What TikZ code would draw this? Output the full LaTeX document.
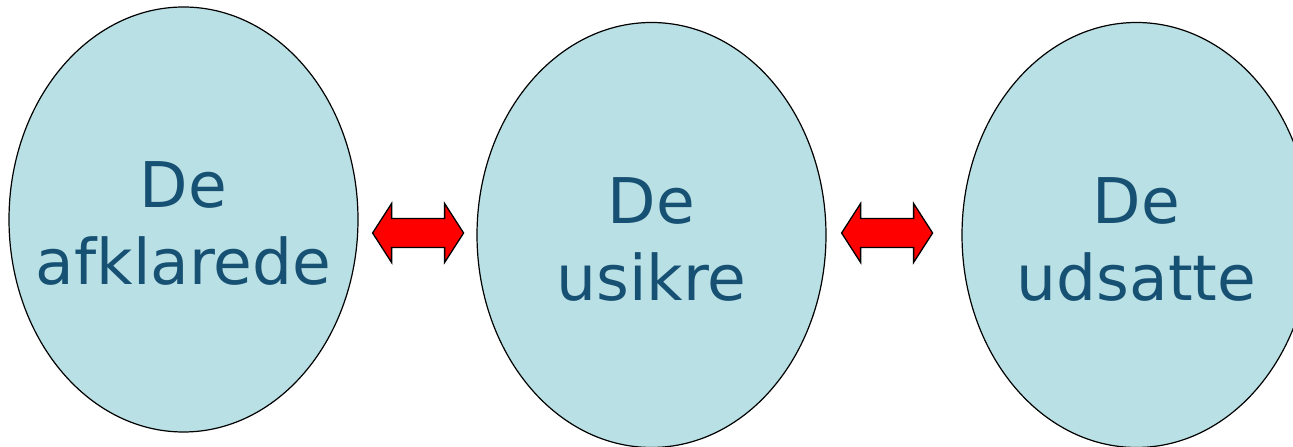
\documentclass[tikz,border=0pt]{standalone}
\usepackage{fontspec}
\setmainfont{DejaVu Sans}
\usetikzlibrary{shapes.geometric,calc}

\definecolor{groupfill}{RGB}{185,224,228}
\definecolor{grouptext}{RGB}{22,80,115}

\tikzset{
  group/.style={ellipse, draw=black, line width=1.2pt, fill=groupfill,
    minimum width=349pt, minimum height=425pt, inner sep=0pt,
    label={[grouplabel]center:#1}},
  grouplabel/.style={text=grouptext, align=center, inner sep=0pt, yshift=-4pt,
    font=\fontsize{63}{77}\selectfont},
  dblarrow/.style={draw=black, line width=1.3pt, fill=red, line join=miter}
}

\begin{document}
\begin{tikzpicture}[x=1pt, y=1pt]
    \useasboundingbox (0,0) rectangle (1293,447);
    % the three groups
    \node[group={De\\afklarede}] (afklarede) at (183.5,227.5) {};
    \node[group={De\\usikre}] (usikre) at (651.5,212) {};
    \node[group={De\\udsatte}] (udsatte) at (1136.5,212) {};
    % arrows between the groups
    \coordinate (a1) at ($(afklarede.east |- usikre.center)+(14,2)$);
    \coordinate (a2) at ($(usikre.east)+(15,2)$);
    \foreach \a in {a1,a2}{
      \begin{scope}[shift={(\a)}]
        \draw[dblarrow] (0,0) -- (19,29.5) -- (19,14.5) -- (72,14.5) -- (72,29.5)
          -- (91,0) -- (72,-29.5) -- (72,-14.5) -- (19,-14.5) -- (19,-29.5) -- cycle;
      \end{scope}
    }
\end{tikzpicture}
\end{document}
